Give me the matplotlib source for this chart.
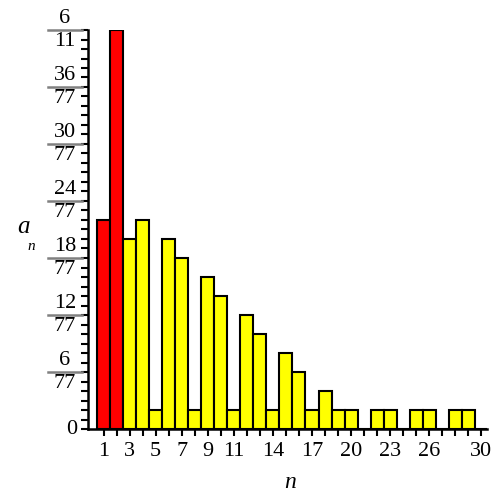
import numpy as np
import matplotlib.pyplot as plt
from fractions import Fraction

# bar heights in units of 1/77
n = list(range(1, 31))
num77 = [22, 42, 20, 22, 2, 20, 18, 2, 16, 14, 2, 12, 10, 2, 8, 6, 2, 4,
         2, 2, 0, 2, 2, 0, 2, 2, 0, 2, 2, 0]
red_n = [1, 2]
xtick_labels = [1, 3, 5, 7, 9, 11, 14, 17, 20, 23, 26, 30]
ytick_nums = [0, 6, 12, 18, 24, 30, 36, 42]

plt.rcParams['font.family'] = ['Liberation Serif', 'DejaVu Serif']

values = [v / 77 for v in num77]
colors = ['#ff0000' if k in red_n else '#ffff00' for k in n]

fig = plt.figure(figsize=(5, 5), dpi=100)
ax = fig.add_axes([0.176, 0.142, 0.797, 0.798])
ax.bar(n, values, width=1.0, color=colors, edgecolor='black', linewidth=1.5)

ax.set_xlim(-0.2, 30.4)
ax.set_ylim(0, 42 / 77)
for s in ['top', 'right']:
    ax.spines[s].set_visible(False)
for s in ['left', 'bottom']:
    ax.spines[s].set_linewidth(1.8)

ax.set_xticks(n, minor=True)
ax.set_xticks(xtick_labels)
ax.set_xticklabels([str(v) for v in xtick_labels], fontsize=16)
ax.tick_params(axis='x', which='both', direction='out', length=5, width=1.5, pad=4)
ax.set_yticks([k / 77 for k in range(0, 43)])
ax.set_yticklabels([])
ax.tick_params(axis='y', which='both', direction='out', length=5, width=1.5)

# fraction tick labels
trans = ax.get_yaxis_transform()
for k in ytick_nums:
    y = k / 77
    if k == 0:
        ax.text(-0.028, y, '0', transform=trans, ha='right', va='center', fontsize=16)
        continue
    f = Fraction(k, 77)
    xc = -0.058
    ax.text(xc, y + 0.003, str(f.numerator), transform=trans, ha='center', va='bottom', fontsize=16)
    ax.text(xc, y - 0.003, str(f.denominator), transform=trans, ha='center', va='top', fontsize=16)
    ax.plot([-0.1, -0.015], [y, y], transform=trans, color='gray', lw=1.8, clip_on=False)

fig.text(0.034, 0.546, 'a', fontsize=18, style='italic', ha='left', va='center')
fig.text(0.054, 0.508, 'n', fontsize=11, style='italic', ha='left', va='center')
fig.text(0.58, 0.035, 'n', fontsize=17, style='italic', ha='center', va='center')

fig.savefig('out.png', dpi=100)
